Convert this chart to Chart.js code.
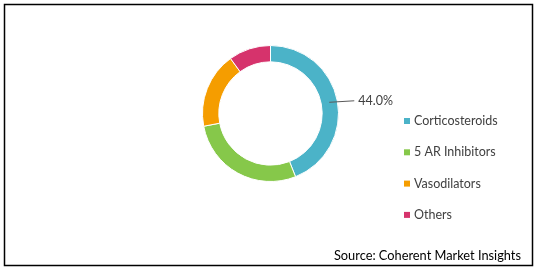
<!DOCTYPE html>
<html>
<head>
<meta charset="utf-8">
<script src="https://cdn.jsdelivr.net/npm/chart.js@4.4.1/dist/chart.umd.min.js"></script>
<style>
html,body{margin:0;padding:0;background:#fff;}
#wrap{width:535px;height:272px;position:relative;}
</style>
</head>
<body>
<div id="wrap"><canvas id="c" width="535" height="272"></canvas></div>
<script>
const categories = ["Corticosteroids", "5 AR Inhibitors", "Vasodilators", "Others"];
const shares = [44.0, 28.0, 18.0, 10.0];
const colors = ["#4BB3C8", "#86C84A", "#F59D00", "#D6336C"];
const labelledIndex = 0;
const sourceText = "Source: Coherent Market Insights";
const FONT = "Lato, 'Open Sans', sans-serif";

const framePlugin = {
  id: 'frame',
  beforeDraw(chart) {
    const ctx = chart.ctx;
    ctx.save();
    ctx.fillStyle = '#fff';
    ctx.fillRect(0, 0, chart.width, chart.height);
    ctx.strokeStyle = '#000';
    ctx.lineWidth = 1.5;
    ctx.strokeRect(4.5, 4.5, 528, 261);
    ctx.restore();
  },
  afterDraw(chart) {
    const ctx = chart.ctx;
    ctx.save();
    // data label with leader line
    const arc = chart.getDatasetMeta(0).data[labelledIndex];
    const p = arc.getProps(['x','y','startAngle','endAngle','innerRadius','outerRadius'], true);
    const mid = (p.startAngle + p.endAngle) / 2;
    const r0 = (p.innerRadius + p.outerRadius) / 2;
    const x0 = p.x + Math.cos(mid) * r0;
    const y0 = p.y + Math.sin(mid) * r0;
    const x1 = x0 + 25, y1 = y0 - 1.5;
    ctx.strokeStyle = '#595959';
    ctx.lineWidth = 1;
    ctx.beginPath(); ctx.moveTo(x0, y0); ctx.lineTo(x1, y1); ctx.stroke();
    ctx.fillStyle = '#404040';
    ctx.font = "12.5px " + FONT;
    ctx.textBaseline = 'middle';
    ctx.textAlign = 'left';
    ctx.fillText(shares[labelledIndex].toFixed(1) + '%', x1 + 4, y1);
    // legend
    const lx = 404, ly0 = 121, step = 31.3;
    categories.forEach((c, i) => {
      const y = ly0 + i * step;
      ctx.fillStyle = colors[i];
      ctx.fillRect(lx, y - 3, 6, 6);
      ctx.fillStyle = '#404040';
      ctx.fillText(c, lx + 10, y);
    });
    // source
    ctx.fillStyle = '#000';
    ctx.textAlign = 'right';
    ctx.font = "12.8px " + FONT;
    ctx.fillText(sourceText, 521, 256);
    ctx.restore();
  }
};

new Chart(document.getElementById('c'), {
  type: 'doughnut',
  data: {
    labels: categories,
    datasets: [{
      data: shares,
      backgroundColor: colors,
      borderColor: '#ffffff',
      borderWidth: 1,
      hoverOffset: 0
    }]
  },
  options: {
    responsive: false,
    animation: false,
    events: [],
    cutout: '76%',
    layout: { padding: { top: 45, bottom: 90, left: 202, right: 196 } },
    plugins: { legend: { display: false }, tooltip: { enabled: false } }
  },
  plugins: [framePlugin]
});
</script>
</body>
</html>
